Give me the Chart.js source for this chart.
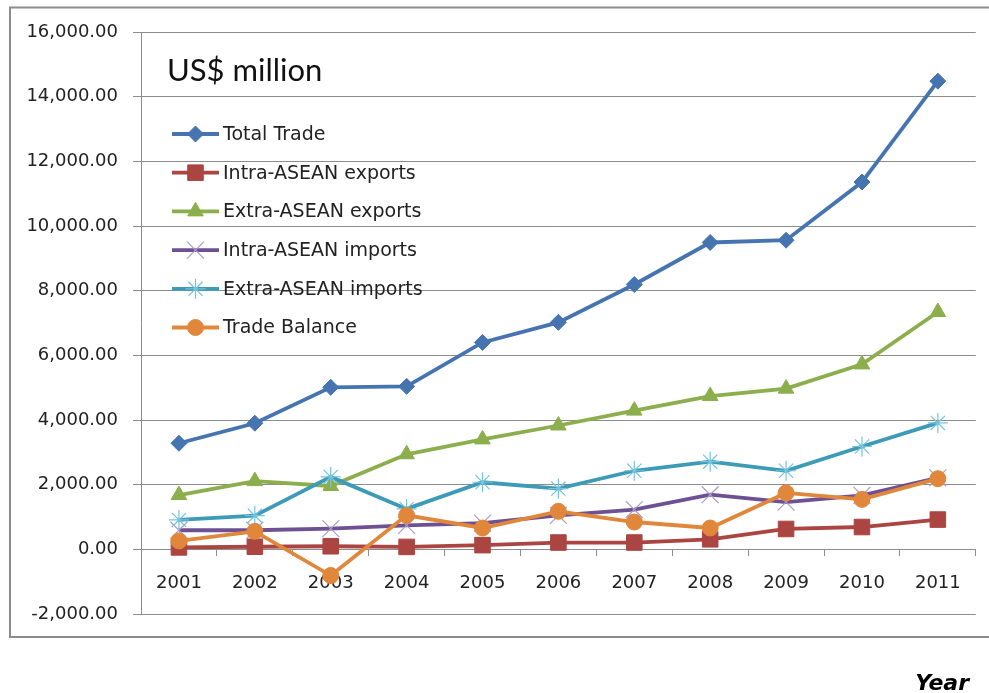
<!DOCTYPE html>
<html>
<head>
<meta charset="utf-8">
<title>Trade, US$ million</title>
<script src="https://cdn.jsdelivr.net/npm/chart.js@4.4.1/dist/chart.umd.min.js"></script>
<style>
  html, body { margin: 0; padding: 0; background: #fff; overflow: hidden; }
  #wrap { width: 989px; height: 693px; }
</style>
</head>
<body>
<div id="wrap"><canvas id="trade" width="989" height="693"></canvas></div>
<script>
// ── Data ──────────────────────────────────────────────────────
const years = ['2001', '2002', '2003', '2004', '2005', '2006', '2007', '2008', '2009', '2010', '2011'];

const totalTrade   = [3280, 3900, 5010, 5040, 6400, 7020, 8190, 9490, 9560, 11360, 14480];
const intraExports = [60, 80, 95, 75, 130, 210, 210, 310, 630, 690, 920];
const extraExports = [1680, 2110, 1960, 2940, 3400, 3830, 4290, 4740, 4970, 5720, 7340];
const intraImports = [590, 590, 640, 740, 810, 1050, 1230, 1690, 1460, 1670, 2210];
const extraImports = [910, 1040, 2240, 1250, 2075, 1880, 2430, 2710, 2430, 3180, 3910];
const tradeBalance = [260, 556, -810, 1050, 660, 1175, 845, 660, 1745, 1545, 2185];

const yMin  = -2000;
const yMax  = 16000;
const yStep = 2000;

const unitLabel = 'US$ million';
const xTitle    = 'Year';

// ── Styles ────────────────────────────────────────────────────
const FONT   = "'DejaVu Sans', Verdana, sans-serif";
const GRID   = '#8c8c8c';
const TEXT   = '#222222';

const fmt = new Intl.NumberFormat('en-US', { minimumFractionDigits: 2, maximumFractionDigits: 2 });

function series(label, data, color, style, extra) {
  return Object.assign({
    label,
    data,
    borderColor:          color,
    backgroundColor:      color,
    borderWidth:          3.8,
    pointStyle:           style,
    pointBackgroundColor: color,
    pointBorderColor:     color,
    pointBorderWidth:     1,
    pointRadius:          8,
    tension:              0,
    fill:                 false,
  }, extra || {});
}

const datasets = [
  series('Total Trade',         totalTrade,   '#4674b0', 'rectRot',  { pointRadius: 8 }),
  series('Intra-ASEAN exports', intraExports, '#ab4542', 'rect',     { pointRadius: 11 }),
  series('Extra-ASEAN exports', extraExports, '#8cae4c', 'triangle', { pointRadius: 9 }),
  series('Intra-ASEAN imports', intraImports, '#6e5193', 'crossRot', { pointRadius: 12, pointBorderColor: '#a99cc8', pointBorderWidth: 1.2 }),
  series('Extra-ASEAN imports', extraImports, '#3e9bb8', 'star',     { pointRadius: 10, pointBorderColor: '#74c4dc', pointBorderWidth: 1.2 }),
  series('Trade Balance',       tradeBalance, '#e0873c', 'circle',   { pointRadius: 8 }),
];
// later series sit on top
datasets.forEach((d, i) => { d.order = datasets.length - i; });

// ── Outer frame (runs off the right edge) ─────────────────────
const framePlugin = {
  id: 'frame',
  beforeDraw(chart) {
    const { ctx } = chart;
    ctx.save();
    ctx.strokeStyle = '#8c8c8c';
    ctx.lineWidth = 2;
    ctx.beginPath();
    ctx.moveTo(chart.width + 5, 7.5);
    ctx.lineTo(10, 7.5);
    ctx.lineTo(10, 637);
    ctx.lineTo(chart.width + 5, 637);
    ctx.stroke();
    ctx.restore();
  },
};

// ── Legend + captions drawn inside the plot ───────────────────
const captionPlugin = {
  id: 'captions',
  afterDraw(chart) {
    const { ctx } = chart;
    ctx.save();

    ctx.fillStyle = '#111';
    ctx.font = "31px Lato, 'Open Sans', sans-serif";
    ctx.textAlign = 'left';
    ctx.textBaseline = 'alphabetic';
    ctx.fillText(unitLabel, 167, 81);

    const x0 = 172, x1 = 219, rowTop = 134, rowGap = 38.7;
    chart.data.datasets.forEach((ds, i) => {
      const y = rowTop + i * rowGap;
      ctx.strokeStyle = ds.borderColor;
      ctx.lineWidth = ds.borderWidth;
      ctx.beginPath();
      ctx.moveTo(x0, y);
      ctx.lineTo(x1, y);
      ctx.stroke();

      ctx.fillStyle = ds.pointBackgroundColor;
      ctx.strokeStyle = ds.pointBorderColor;
      ctx.lineWidth = ds.pointBorderWidth;
      Chart.helpers.drawPoint(ctx, {
        pointStyle: ds.pointStyle,
        radius: ds.pointRadius,
        borderWidth: ds.pointBorderWidth,
        rotation: 0,
      }, (x0 + x1) / 2, y);

      ctx.fillStyle = TEXT;
      ctx.font = '19px ' + FONT;
      ctx.textBaseline = 'middle';
      ctx.fillText(ds.label, 223, y + 1);
    });

    ctx.fillStyle = '#000';
    ctx.font = 'italic bold 22px ' + FONT;
    ctx.textAlign = 'right';
    ctx.textBaseline = 'alphabetic';
    ctx.fillText(xTitle, 969, 690);

    ctx.restore();
  },
};

// ── Chart ─────────────────────────────────────────────────────
new Chart(document.getElementById('trade'), {
  type: 'line',
  data: { labels: years, datasets },
  options: {
    responsive: false,
    animation: false,
    layout: { padding: { left: 0, top: 32, right: 10, bottom: 79 } },
    plugins: {
      legend:  { display: false },
      tooltip: { enabled: false },
    },
    scales: {
      x: {
        type: 'category',
        offset: true,
        position: { y: 0 },
        grid: {
          offset: true,
          drawOnChartArea: false,
          drawTicks: true,
          tickLength: 6,
          color: GRID,
        },
        border: { display: true, color: GRID },
        ticks: {
          color: TEXT,
          font: { family: FONT, size: 18 },
          padding: 17,
          maxRotation: 0,
        },
        // labels sit well inside their categories; no edge padding needed
        afterFit(scale) { scale.paddingLeft = 0; scale.paddingRight = 0; },
      },
      y: {
        min: yMin,
        max: yMax,
        grid: { color: GRID, tickLength: 8 },
        border: { display: true, color: GRID },
        ticks: {
          stepSize: yStep,
          color: TEXT,
          font: { family: FONT, size: 18 },
          padding: 15,
          callback: (v) => fmt.format(v),
        },
        afterFit(scale) { scale.width = 141; },
      },
    },
  },
  plugins: [framePlugin, captionPlugin],
});
</script>
</body>
</html>
